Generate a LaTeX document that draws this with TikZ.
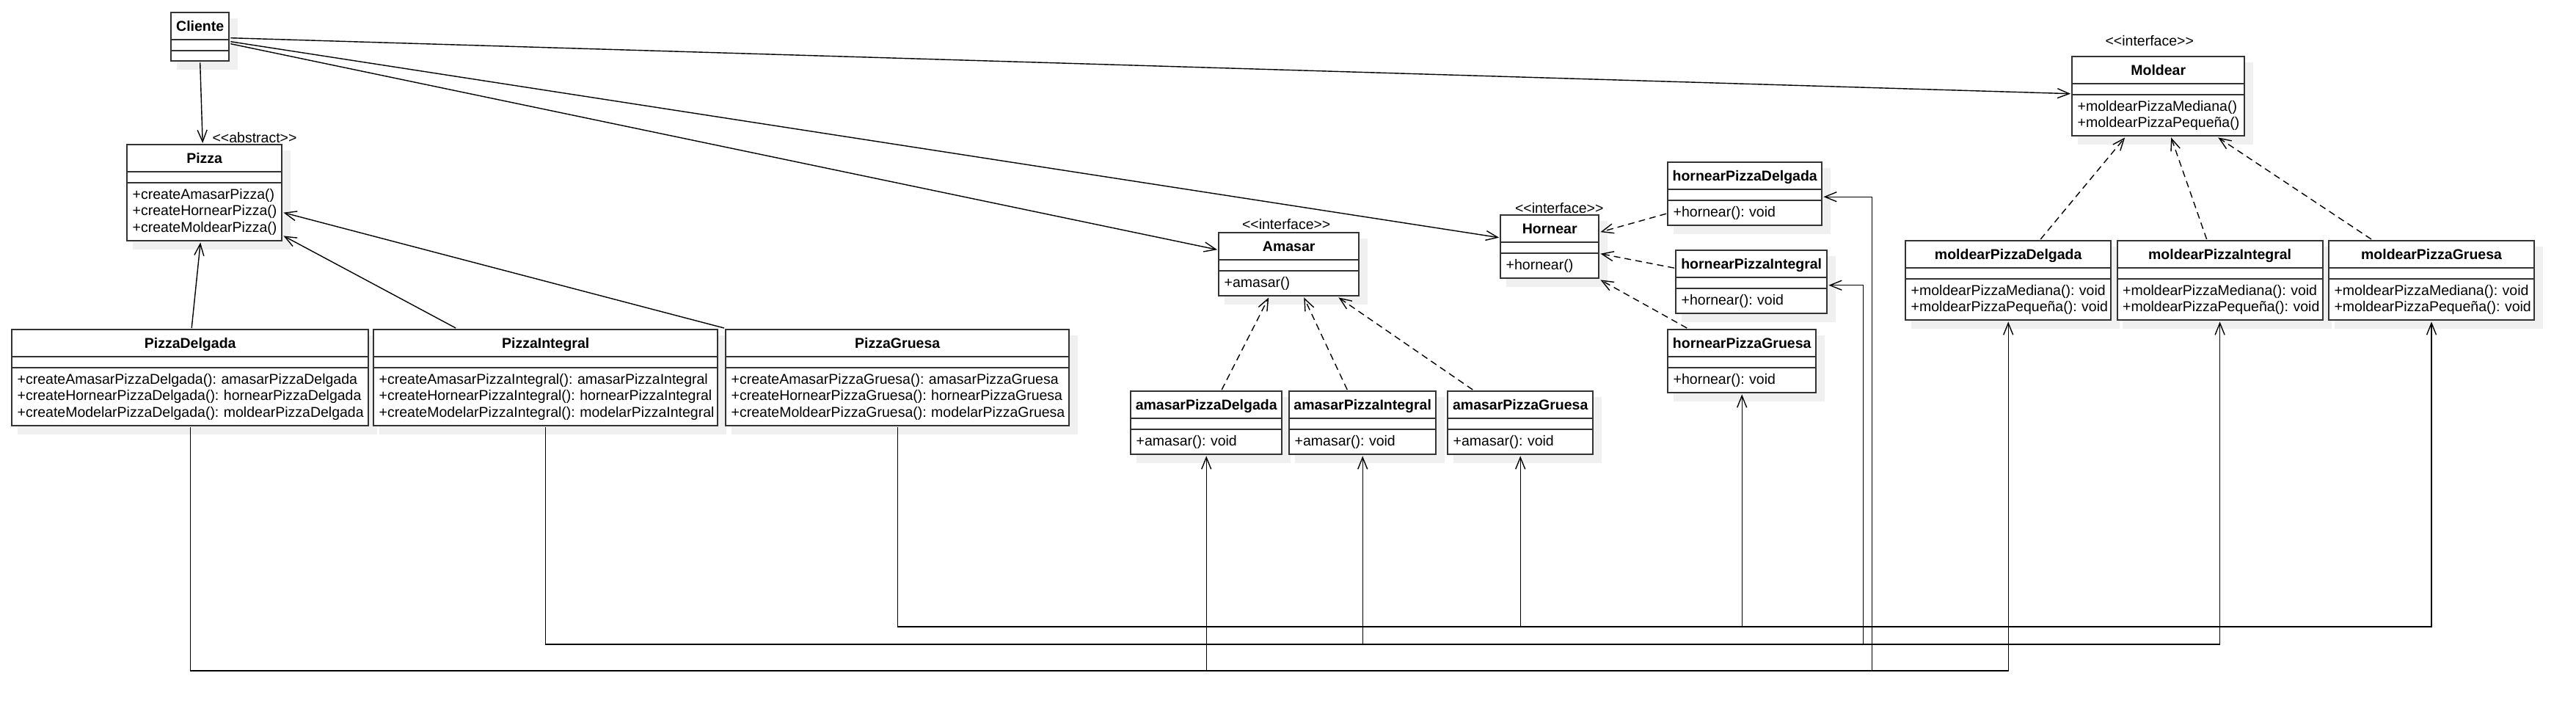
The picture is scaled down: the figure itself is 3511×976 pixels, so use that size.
\documentclass[tikz,border=0pt]{standalone}
\usepackage{fontspec}
\setmainfont{Liberation Sans}
\usetikzlibrary{matrix, positioning, arrows.meta, backgrounds}

\newcommand{\classfont}{\fontsize{9.75}{11.25}\selectfont}
\newcommand{\stype}[1]{<{}<#1>{}>}
\definecolor{shadowgray}{gray}{0.94}

\tikzset{
  umlclass/.style={
    line width=1.1pt,
    row sep=-1.1pt,
    inner sep=0pt,
    anchor=north west,
    nodes={rectangle, draw=black!80, fill=white, font=\classfont,
      inner sep=0pt, text width=#1},
  },
  ctitle/.style={
    font=\classfont\bfseries, align=center,
    minimum height=18.5pt, text height=7pt, text depth=0pt
  },
  cattr/.style={
    minimum height=7.5pt
  },
  cops/.style={
    align=left, minimum height=#1,
    execute at begin node={\leftskip=3.75pt\frenchspacing\hyphenpenalty=10000}
  },
  stereo/.style={
    font=\classfont, inner sep=0pt
  },
  assoc/.style={
    line width=0.7pt, -{Straight Barb[length=8pt, width=6.5pt]}
  },
  realiz/.style={
    assoc, dash pattern=on 4.5pt off 3pt
  }
}

\begin{document}
\begin{tikzpicture}[x=0.5pt, y=-0.5pt]
  \useasboundingbox (0,0) rectangle (3511,976);

  % cliente y pizza abstracta
  \matrix (cliente) [umlclass=39.5pt] at (231,15) {
    \node[ctitle]{Cliente}; \\
    \node[cattr]{}; \\
    \node[cops=7pt]{}; \\
  };
  \matrix (pizza) [umlclass=105.5pt] at (171,195) {
    \node[ctitle]{Pizza}; \\
    \node[cattr]{}; \\
    \node[cops=39.5pt]{+createAmasarPizza()\\+createHornearPizza()\\+createMoldearPizza()}; \\
  };
  \node[stereo, anchor=base west] (pizza-st) at ([xshift=5.25pt, yshift=0.5pt]pizza.north) {\stype{abstract}};

  % pizzas concretas
  \matrix (pdelgada) [umlclass=243pt] at (14,447) {
    \node[ctitle]{PizzaDelgada}; \\
    \node[cattr]{}; \\
    \node[cops=39.5pt]{+createAmasarPizzaDelgada(): amasarPizzaDelgada\\+createHornearPizzaDelgada(): hornearPizzaDelgada\\+createModelarPizzaDelgada(): moldearPizzaDelgada}; \\
  };
  \matrix (pintegral) [umlclass=234.5pt] at (507,447) {
    \node[ctitle]{PizzaIntegral}; \\
    \node[cattr]{}; \\
    \node[cops=39.5pt]{+createAmasarPizzaIntegral(): amasarPizzaIntegral\\+createHornearPizzaIntegral(): hornearPizzaIntegral\\+createModelarPizzaIntegral(): modelarPizzaIntegral}; \\
  };
  \matrix (pgruesa) [umlclass=234pt] at (987,447) {
    \node[ctitle]{PizzaGruesa}; \\
    \node[cattr]{}; \\
    \node[cops=39.5pt]{+createAmasarPizzaGruesa(): amasarPizzaGruesa\\+createHornearPizzaGruesa(): hornearPizzaGruesa\\+createMoldearPizzaGruesa(): modelarPizzaGruesa}; \\
  };

  % amasar
  \matrix (amasar) [umlclass=95.5pt] at (1659,315) {
    \node[ctitle]{Amasar}; \\
    \node[cattr]{}; \\
    \node[cops=17pt]{+amasar()}; \\
  };
  \node[stereo, anchor=base] (amasar-st) at ([xshift=-1.75pt, yshift=1.3pt]amasar.north) {\stype{interface}};
  \matrix (adelgada) [umlclass=103pt] at (1539,531) {
    \node[ctitle]{amasarPizzaDelgada}; \\
    \node[cattr]{}; \\
    \node[cops=17pt]{+amasar(): void}; \\
  };
  \matrix (aintegral) [umlclass=100pt] at (1755,531) {
    \node[ctitle]{amasarPizzaIntegral}; \\
    \node[cattr]{}; \\
    \node[cops=17pt]{+amasar(): void}; \\
  };
  \matrix (agruesa) [umlclass=99pt] at (1971,531) {
    \node[ctitle]{amasarPizzaGruesa}; \\
    \node[cattr]{}; \\
    \node[cops=17pt]{+amasar(): void}; \\
  };

  % hornear
  \matrix (hornear) [umlclass=67pt] at (2043,291) {
    \node[ctitle]{Hornear}; \\
    \node[cattr]{}; \\
    \node[cops=17pt]{+hornear()}; \\
  };
  \node[stereo, anchor=base] (hornear-st) at ([xshift=6.5pt, yshift=0.3pt]hornear.north) {\stype{interface}};
  \matrix (hdelgada) [umlclass=105pt] at (2271,219) {
    \node[ctitle]{hornearPizzaDelgada}; \\
    \node[cattr]{}; \\
    \node[cops=17pt]{+hornear(): void}; \\
  };
  \matrix (hintegral) [umlclass=103pt] at (2282,339) {
    \node[ctitle]{hornearPizzaIntegral}; \\
    \node[cattr]{}; \\
    \node[cops=17pt]{+hornear(): void}; \\
  };
  \matrix (hgruesa) [umlclass=101pt] at (2271,447) {
    \node[ctitle]{hornearPizzaGruesa}; \\
    \node[cattr]{}; \\
    \node[cops=17pt]{+hornear(): void}; \\
  };

  % moldear
  \matrix (moldear) [umlclass=117.5pt] at (2822,75) {
    \node[ctitle]{Moldear}; \\
    \node[cattr]{}; \\
    \node[cops=28pt]{+moldearPizzaMediana()\\+moldearPizzaPequeña()}; \\
  };
  \node[stereo, anchor=base] (moldear-st) at ([xshift=-6pt, yshift=6.3pt]moldear.north) {\stype{interface}};
  \matrix (mdelgada) [umlclass=140pt] at (2595,326) {
    \node[ctitle]{moldearPizzaDelgada}; \\
    \node[cattr]{}; \\
    \node[cops=28pt]{+moldearPizzaMediana(): void\\+moldearPizzaPequeña(): void}; \\
  };
  \matrix (mintegral) [umlclass=140pt, right=2pt of mdelgada] {
    \node[ctitle]{moldearPizzaIntegral}; \\
    \node[cattr]{}; \\
    \node[cops=28pt]{+moldearPizzaMediana(): void\\+moldearPizzaPequeña(): void}; \\
  };
  \matrix (mgruesa) [umlclass=140pt, right=2pt of mintegral] {
    \node[ctitle]{moldearPizzaGruesa}; \\
    \node[cattr]{}; \\
    \node[cops=28pt]{+moldearPizzaMediana(): void\\+moldearPizzaPequeña(): void}; \\
  };

  % asociaciones del cliente
  \draw[assoc] (cliente.south) -- ([xshift=-1.25pt]pizza.north);
  \draw[assoc] ([yshift=-0.75pt]cliente.east) -- ([yshift=1.75pt]moldear.west);
  \draw[assoc] ([yshift=-3.25pt]cliente.east) -- ([yshift=6.25pt]hornear.west);
  \draw[assoc] ([yshift=-4.75pt]cliente.east) -- ([yshift=10pt]amasar.west);

  % herencia de pizza
  \draw[assoc] ([xshift=1pt]pdelgada.north) -- ([xshift=-2.75pt]pizza.south);
  \draw[assoc] ([xshift=-61.25pt]pintegral.north) -- ([yshift=4.5pt]pizza.south east);
  \draw[assoc] (pgruesa.north west) -- ([yshift=-13.5pt]pizza.east);

  % realizaciones
  \draw[realiz] ([xshift=10.5pt]adelgada.north) -- ([xshift=-13.75pt]amasar.south);
  \draw[realiz] ([xshift=-10.5pt]aintegral.north) -- ([xshift=10.25pt]amasar.south);
  \draw[realiz] ([xshift=-32.5pt]agruesa.north) -- ([xshift=-15pt]amasar.south east);
  \draw[realiz] ([yshift=-13.5pt]hdelgada.west) -- ([yshift=10pt]hornear.east);
  \draw[realiz] ([yshift=9.5pt]hintegral.west) -- ([yshift=-4.75pt]hornear.east);
  \draw[realiz] ([xshift=-37.5pt]hgruesa.north) -- (hornear.south east);
  \draw[realiz] ([xshift=22pt]mdelgada.north) -- ([xshift=-22.75pt]moldear.south);
  \draw[realiz] ([xshift=-9pt]mintegral.north) -- ([xshift=8.75pt]moldear.south);
  \draw[realiz] ([xshift=-41pt]mgruesa.north) -- ([xshift=40.75pt]moldear.south);

  % lineas de abajo
  \coordinate (busD) at (0,914);
  \coordinate (busI) at (0,878);
  \coordinate (busG) at (0,854);
  \foreach \v/\b in {delgada/D, integral/I, gruesa/G} {
    \draw[assoc] (p\v.south) -- (p\v.south |- bus\b) -| (a\v.south);
    \draw[assoc] (p\v.south) -- (p\v.south |- bus\b) -| (m\v.south);
  }
  \draw[assoc] (pdelgada.south) -- (pdelgada.south |- busD) -| ([xshift=33pt, yshift=-2pt]hdelgada.east) -- ([yshift=-2pt]hdelgada.east);
  \draw[assoc] (pintegral.south) -- (pintegral.south |- busI) -| ([xshift=23.5pt, yshift=-2.25pt]hintegral.east) -- ([yshift=-2.25pt]hintegral.east);
  \draw[assoc] (pgruesa.south) -- (pgruesa.south |- busG) -| (hgruesa.south);

  % sombras
  \begin{scope}[on background layer]
    \fill[white] (0,0) rectangle (3511,976);
    \foreach \c in {cliente, pizza, pdelgada, pintegral, pgruesa, amasar, adelgada, aintegral, agruesa,
      hornear, hdelgada, hintegral, hgruesa, moldear, mdelgada, mintegral, mgruesa}
      \fill[shadowgray] ([shift={(10,10)}]\c.north west) rectangle ([shift={(10,10)}]\c.south east);
  \end{scope}
\end{tikzpicture}
\end{document}
